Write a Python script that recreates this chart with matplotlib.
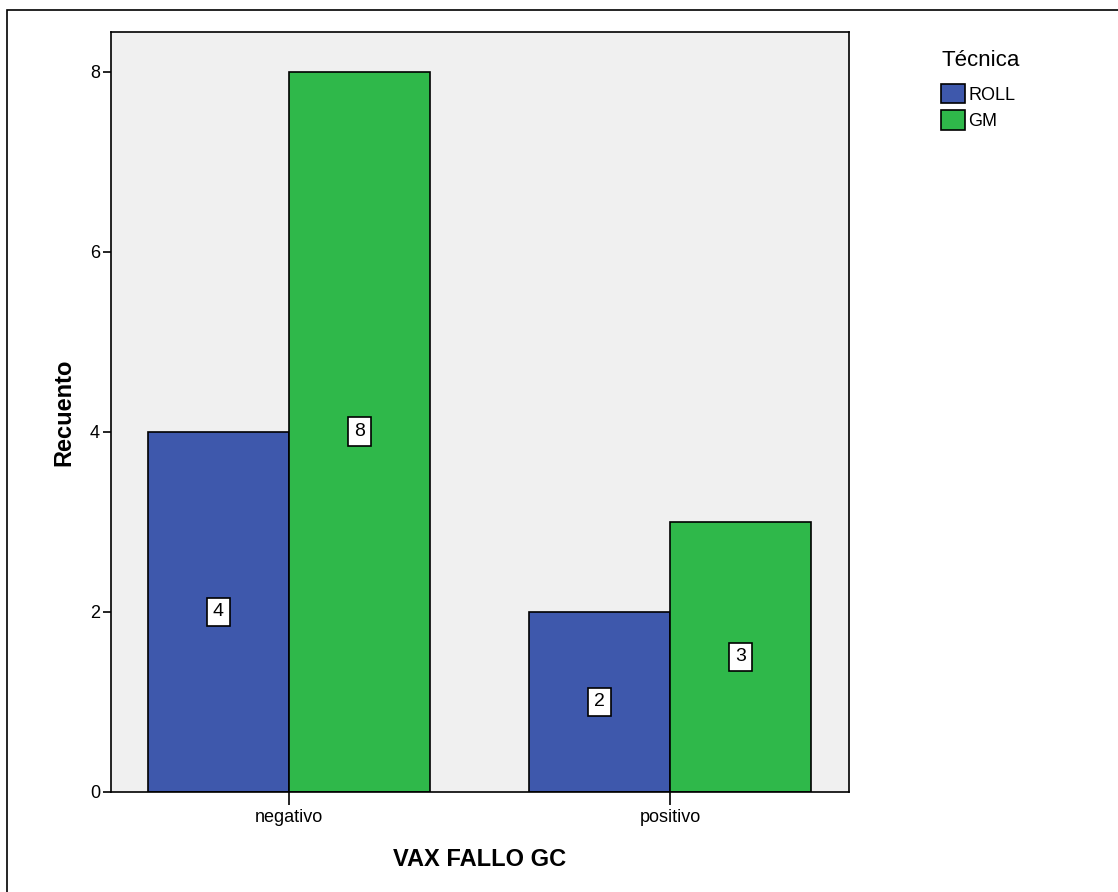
import matplotlib
matplotlib.use("Agg")
import matplotlib.pyplot as plt
from matplotlib.patches import Rectangle, Patch
import numpy as np

plt.rcParams['font.family'] = ['Liberation Sans', 'DejaVu Sans']

categorias = ['negativo', 'positivo']
tecnicas = ['ROLL', 'GM']
roll = [4, 2]
gm = [8, 3]
colores = ['#3E58AC', '#2FB84A']

W, H = 1118, 892
fig = plt.figure(figsize=(W / 100, H / 100), dpi=100)

# marco exterior
fig.patches.append(Rectangle((7 / W, -0.01), 1.0, 1 - 10 / H + 0.01, transform=fig.transFigure,
                             fill=False, edgecolor='black', linewidth=1.2))

ax = fig.add_axes([111 / W, 1 - 792 / H, (849 - 111) / W, (792 - 32) / H])
ax.set_facecolor('#F0F0F0')

x = np.arange(len(categorias))
ancho = 0.37
for serie, vals, off, col in [(tecnicas[0], roll, -ancho / 2, colores[0]),
                              (tecnicas[1], gm, ancho / 2, colores[1])]:
    barras = ax.bar(x + off, vals, ancho, color=col, edgecolor='black', linewidth=1.2, label=serie)
    for b, v in zip(barras, vals):
        ax.text(b.get_x() + b.get_width() / 2, v / 2, str(v), ha='center', va='center', fontsize=14,
                bbox=dict(boxstyle='square,pad=0.3', facecolor='white', edgecolor='black', linewidth=1.2))

ax.set_xlim(-0.467, 1.47)
ax.set_ylim(0, 8.44)
ax.set_yticks([0, 2, 4, 6, 8])
ax.set_xticks(x)
ax.set_xticklabels(categorias)
ax.tick_params(axis='both', direction='out', length=6, width=1.2, labelsize=13, colors='black', pad=2)
ax.tick_params(axis='x', length=9, pad=3)
for s in ax.spines.values():
    s.set_linewidth(1.2)

ax.set_ylabel('Recuento', fontsize=17, fontweight='bold', labelpad=10)
ax.set_xlabel('VAX FALLO GC', fontsize=17, fontweight='bold', labelpad=16)

manijas = [Patch(facecolor=c, edgecolor='black', linewidth=1.2, label=t) for c, t in zip(colores, tecnicas)]
leg = fig.legend(handles=manijas, title='Técnica', loc='upper left', bbox_to_anchor=(925 / W, 1 - 34 / H),
                 frameon=False, fontsize=13, title_fontsize=16, handlelength=1.3, handleheight=1.3,
                 handletextpad=0.2, labelspacing=0.35)
leg._legend_box.align = 'left'
leg._legend_box.sep = 9

fig.savefig('out.png', dpi=100)
